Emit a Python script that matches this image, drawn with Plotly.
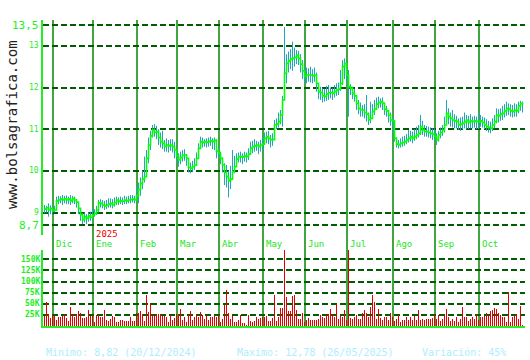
import plotly.graph_objects as go

# ---------------- data (daily, Nov-2024 .. Oct-2025) ----------------
close_nd = [9.08, 9.12, 9.06, 9.10, 9.05, 9.06, 9.28, 9.30, 9.32, 9.30, 9.33, 9.30, 9.32, 9.28, 9.34,
            9.30, 9.25, 9.10, 8.95, 8.82, 8.90, 8.86, 8.92, 8.88, 8.94]
close_jan = [8.98, 9.06, 9.24, 9.22, 9.18, 9.15, 9.18, 9.20, 9.22, 9.18, 9.24, 9.30, 9.26, 9.28, 9.27,
             9.30, 9.28, 9.30, 9.31, 9.32, 9.30, 9.40]
close_feb = [9.55, 9.70, 9.80, 9.86, 10.30, 10.62, 10.84, 10.98, 10.92, 10.94, 10.80, 10.70, 10.66, 10.58,
             10.62, 10.60, 10.62, 10.58, 10.50, 10.36]
close_mar = [10.26, 10.32, 10.38, 10.38, 10.30, 10.08, 10.06, 10.10, 10.14, 10.30, 10.54, 10.70, 10.68,
             10.70, 10.68, 10.70, 10.72, 10.70, 10.74, 10.48, 10.42]
close_apr = [10.30, 10.14, 9.96, 9.86, 9.76, 9.80, 9.98, 10.10, 10.28, 10.34, 10.34, 10.33, 10.36, 10.34,
             10.40, 10.54, 10.58, 10.60, 10.62, 10.58, 10.62, 10.64]
close_may = [10.78, 10.82, 10.78, 10.74, 10.75, 11.10, 11.12, 11.18, 11.34, 11.70, 12.34, 12.58, 12.64,
             12.68, 12.70, 12.72, 12.78, 12.70, 12.56, 12.40, 12.26]
close_jun = [12.30, 12.30, 12.30, 12.28, 12.30, 12.10, 11.90, 11.88, 11.80, 11.78, 11.84, 11.88, 11.88,
             11.86, 11.90, 11.94, 11.96, 12.10, 12.50, 12.58, 12.30]
close_jul = [12.02, 11.98, 11.86, 11.80, 11.62, 11.50, 11.46, 11.46, 11.40, 11.36, 11.22, 11.26, 11.42,
             11.48, 11.60, 11.64, 11.66, 11.62, 11.48, 11.44, 11.34, 11.22, 11.20]
close_ago = [10.78, 10.64, 10.62, 10.66, 10.68, 10.70, 10.74, 10.78, 10.82, 10.78, 10.82, 10.86, 10.90,
             11.06, 10.98, 10.94, 10.94, 10.92, 10.90, 10.88, 10.82]
close_sep = [10.74, 10.86, 10.92, 10.98, 11.10, 11.38, 11.30, 11.26, 11.22, 11.20, 11.18, 11.10, 11.12,
             11.14, 11.18, 11.22, 11.16, 11.20, 11.18, 11.20, 11.18, 11.18]
close_oct = [11.20, 11.16, 11.10, 11.06, 11.04, 11.02, 11.10, 11.18, 11.34, 11.32, 11.36, 11.38, 11.44,
             11.50, 11.48, 11.44, 11.42, 11.46, 11.44, 11.56, 11.62, 11.58]

high_nd = [9.18, 9.16, 9.22, 9.17, 9.14, 9.16, 9.38, 9.40, 9.39, 9.42, 9.40, 9.41, 9.38, 9.42, 9.40,
           9.38, 9.32, 9.22, 9.02, 8.98, 9.00, 8.96, 9.00, 9.02, 9.10]
high_jan = [9.08, 9.16, 9.30, 9.32, 9.30, 9.28, 9.30, 9.34, 9.34, 9.32, 9.36, 9.38, 9.36, 9.38, 9.36,
            9.40, 9.38, 9.40, 9.42, 9.42, 9.40, 9.62]
high_feb = [9.72, 9.84, 10.00, 10.34, 10.50, 10.80, 10.96, 11.10, 11.12, 11.08, 11.00, 10.92, 10.96,
            10.74, 10.78, 10.74, 10.76, 10.76, 10.70, 10.56]
high_mar = [10.42, 10.46, 10.50, 10.52, 10.40, 10.30, 10.20, 10.24, 10.30, 10.44, 10.66, 10.82, 10.80,
            10.76, 10.78, 10.80, 10.82, 10.78, 10.80, 10.76, 10.56]
high_apr = [10.46, 10.32, 10.18, 10.14, 10.00, 10.12, 10.50, 10.36, 10.42, 10.44, 10.46, 10.42, 10.46,
            10.44, 10.54, 10.70, 10.72, 10.76, 10.72, 10.70, 10.74, 10.80]
high_may = [10.92, 10.94, 10.96, 10.86, 10.90, 11.22, 11.26, 11.40, 11.46, 11.80, 13.45, 12.80, 12.86,
            12.92, 13.10, 12.96, 12.90, 12.88, 12.80, 12.66, 12.50]
high_jun = [12.48, 12.46, 12.50, 12.44, 12.48, 12.36, 12.08, 12.02, 11.98, 11.96, 12.04, 12.06, 12.00,
            11.98, 12.06, 12.10, 12.12, 12.42, 12.66, 12.70, 12.62]
high_jul = [12.42, 12.08, 12.02, 11.96, 11.80, 11.70, 11.64, 11.58, 11.60, 11.82, 11.40, 11.66, 11.60,
            11.70, 11.76, 11.78, 11.74, 11.76, 11.64, 11.56, 11.46, 11.40, 11.30]
high_ago = [10.96, 10.80, 10.74, 10.78, 10.82, 10.84, 10.88, 10.98, 10.96, 10.94, 11.00, 11.06, 11.10,
            11.34, 11.20, 11.10, 11.08, 11.06, 11.04, 11.02, 11.02]
high_sep = [10.90, 10.96, 11.04, 11.10, 11.30, 11.70, 11.50, 11.40, 11.46, 11.36, 11.32, 11.26, 11.28,
            11.30, 11.40, 11.34, 11.32, 11.36, 11.30, 11.32, 11.30, 11.40]
high_oct = [11.34, 11.30, 11.28, 11.24, 11.20, 11.18, 11.26, 11.34, 11.50, 11.48, 11.50, 11.56, 11.60,
            11.66, 11.62, 11.60, 11.58, 11.62, 11.60, 11.66, 11.68, 11.66]

low_nd = [8.98, 9.00, 8.90, 8.96, 8.98, 9.00, 9.18, 9.20, 9.22, 9.18, 9.22, 9.20, 9.20, 9.18, 9.22,
          9.20, 9.12, 8.96, 8.80, 8.72, 8.76, 8.72, 8.78, 8.80, 8.84]
low_jan = [8.90, 8.94, 9.00, 9.12, 9.10, 9.06, 9.08, 9.12, 9.12, 9.10, 9.14, 9.18, 9.18, 9.20, 9.18,
           9.20, 9.20, 9.22, 9.22, 9.24, 9.22, 9.26]
low_feb = [9.22, 9.40, 9.56, 9.72, 9.86, 10.18, 10.50, 10.80, 10.82, 10.76, 10.62, 10.56, 10.52, 10.46,
           10.46, 10.44, 10.48, 10.44, 10.30, 10.20]
low_mar = [10.10, 10.16, 10.22, 10.24, 10.12, 9.96, 9.94, 9.98, 10.02, 10.12, 10.36, 10.54, 10.56,
           10.58, 10.56, 10.58, 10.60, 10.52, 10.50, 10.30, 10.30]
low_apr = [10.16, 9.96, 9.66, 9.60, 9.36, 9.56, 9.78, 9.94, 10.14, 10.20, 10.20, 10.16, 10.22, 10.20,
           10.26, 10.38, 10.42, 10.46, 10.48, 10.40, 10.46, 10.50]
low_may = [10.62, 10.66, 10.64, 10.56, 10.60, 10.74, 11.00, 11.04, 11.12, 11.06, 12.06, 12.10, 12.36,
           12.44, 12.40, 12.50, 12.56, 12.54, 12.36, 12.20, 12.10]
low_jun = [12.10, 12.14, 12.12, 12.10, 12.14, 11.90, 11.72, 11.70, 11.64, 11.66, 11.68, 11.70, 11.74,
           11.70, 11.76, 11.80, 11.82, 11.92, 12.06, 12.20, 12.10]
low_jul = [11.30, 11.82, 11.72, 11.66, 11.46, 11.36, 11.30, 11.30, 11.26, 11.18, 11.10, 11.14, 11.28,
           11.34, 11.46, 11.50, 11.52, 11.46, 11.34, 11.30, 11.16, 11.08, 10.90]
low_ago = [10.70, 10.56, 10.54, 10.56, 10.58, 10.60, 10.64, 10.68, 10.70, 10.66, 10.72, 10.76, 10.80,
           10.86, 10.86, 10.82, 10.82, 10.80, 10.78, 10.74, 10.72]
low_sep = [10.62, 10.70, 10.78, 10.84, 10.92, 11.14, 11.12, 11.06, 11.04, 11.02, 11.02, 10.98, 10.96,
           11.00, 11.02, 11.00, 11.00, 11.02, 11.02, 11.04, 11.00, 11.00]
low_oct = [11.06, 11.04, 11.00, 10.96, 10.92, 10.90, 10.96, 11.02, 11.14, 11.16, 11.20, 11.22, 11.28,
           11.32, 11.34, 11.30, 11.28, 11.30, 11.30, 11.38, 11.44, 11.40]

# volume in thousands
vol_nd = [25, 55, 26, 17, 24, 22, 14, 20, 20, 22, 28, 18, 12, 42, 28, 20, 26, 33, 30, 18, 18, 20, 37, 22, 24]
vol_jan = [8, 24, 25, 20, 20, 36, 13, 12, 16, 22, 20, 10, 10, 13, 13, 12, 12, 11, 20, 12, 11, 30]
vol_feb = [30, 33, 26, 12, 70, 32, 52, 25, 22, 26, 28, 28, 22, 22, 20, 10, 25, 14, 18, 26]
vol_mar = [25, 38, 13, 20, 10, 25, 34, 13, 20, 27, 20, 32, 25, 15, 25, 14, 20, 20, 23, 20, 24]
vol_apr = [8, 15, 48, 82, 30, 15, 22, 10, 10, 14, 25, 6, 6, 2, 25, 12, 10, 12, 20, 15, 17, 20]
vol_may = [20, 22, 12, 12, 18, 70, 12, 20, 40, 40, 171, 66, 33, 33, 68, 70, 35, 15, 15, 29, 10]
vol_jun = [14, 17, 13, 13, 13, 13, 15, 25, 20, 17, 27, 27, 38, 27, 20, 50, 15, 25, 20, 35, 13]
vol_jul = [173, 17, 15, 21, 25, 15, 15, 29, 36, 30, 20, 42, 70, 53, 15, 39, 17, 13, 20, 20, 13, 29, 20]
vol_ago = [12, 15, 25, 10, 14, 14, 20, 14, 20, 14, 23, 14, 36, 14, 15, 14, 15, 15, 15, 17, 27]
vol_sep = [15, 25, 12, 15, 25, 39, 20, 12, 15, 12, 20, 8, 15, 42, 20, 20, 12, 15, 20, 15, 27, 14]
vol_oct = [20, 20, 23, 29, 25, 33, 36, 40, 38, 30, 25, 20, 20, 10, 77, 10, 20, 25, 27, 15, 44, 1]

month_labels = ["Dic", "Ene", "Feb", "Mar", "Abr", "May", "Jun", "Jul", "Ago", "Sep", "Oct"]
month_starts = [5, 25, 47, 67, 88, 110, 131, 152, 175, 196, 218]
year_label = "2025"
year_start = 25

price_ticks = [13.5, 13, 12, 11, 10, 9, 8.7]
price_tick_text = ["13,5", "13", "12", "11", "10", "9", "8,7"]
vol_ticks = [25, 50, 75, 100, 125, 150]
vol_tick_text = ["25K", "50K", "75K", "100K", "125K", "150K"]

footer_min = "Minimo: 8,82 (20/12/2024)"
footer_max = "Maximo: 12,78 (26/05/2025)"
footer_var = "Variación: 45%"
watermark = "www.bolsagrafica.com"

# ---------------- assemble ----------------
close = (close_nd + close_jan + close_feb + close_mar + close_apr + close_may + close_jun +
         close_jul + close_ago + close_sep + close_oct)
high = (high_nd + high_jan + high_feb + high_mar + high_apr + high_may + high_jun +
        high_jul + high_ago + high_sep + high_oct)
low = (low_nd + low_jan + low_feb + low_mar + low_apr + low_may + low_jun +
       low_jul + low_ago + low_sep + low_oct)
vol = (vol_nd + vol_jan + vol_feb + vol_mar + vol_apr + vol_may + vol_jun +
       vol_jul + vol_ago + vol_sep + vol_oct)
n = len(close)
idx = list(range(n))

W, H = 530, 360
def px_x(p):
    return p / W
def px_y(p):
    return (H - p) / H

MONO = "DejaVu Sans Mono"
GRID = "#005c00"
VLINE = "#008a00"
AXG = "#22ee22"
LBLG = "#22e622"

hx, hy = [], []
for i in idx:
    hx += [i, i, None]
    hy += [low[i], high[i], None]

fig = go.Figure()
fig.add_trace(go.Scatter(x=hx, y=hy, mode="lines", line=dict(color="#1fa6b8", width=1),
                         xaxis="x", yaxis="y", hoverinfo="skip"))
fig.add_trace(go.Scatter(x=idx, y=close, mode="lines", line=dict(color="#00ff00", width=1.6, shape="hv"),
                         xaxis="x", yaxis="y"))
fig.add_trace(go.Bar(x=idx, y=vol, marker=dict(color="#e00000", line=dict(width=0)), width=0.5,
                     xaxis="x2", yaxis="y2"))

# exactly 2 px per trading day; day i centred on a pixel
xdom = [px_x(43), px_x(525)]
xr = [-0.75, n + 0.25]
fig.update_layout(
    width=W, height=H, margin=dict(l=0, r=0, t=0, b=0),
    paper_bgcolor="white", plot_bgcolor="white", showlegend=False, bargap=0,
    xaxis=dict(domain=xdom, range=xr, showgrid=False, zeroline=False, showticklabels=False,
               anchor="y", showline=False),
    yaxis=dict(domain=[px_y(235), px_y(20)],
               range=[8.7 - 10 / 41.67, 13.5 + 5 / 41.67],
               tickvals=price_ticks, showticklabels=False, showgrid=True, gridcolor=GRID,
               gridwidth=1.5, griddash="6px,3px", zeroline=False,
               showline=True, linecolor=AXG, linewidth=1.5, anchor="x"),
    xaxis2=dict(domain=xdom, range=xr, showgrid=False, zeroline=False, showticklabels=False,
                anchor="y2", showline=True, linecolor=AXG, linewidth=2),
    yaxis2=dict(domain=[px_y(326), px_y(250)], range=[0, 76 / 0.4444],
                tickvals=vol_ticks, showticklabels=False, showgrid=True, gridcolor=GRID,
                gridwidth=1.5, griddash="6px,3px", zeroline=False,
                showline=True, linecolor=AXG, linewidth=1.5, anchor="x2"),
)

shapes = []
for s in month_starts:
    shapes.append(dict(type="line", xref="x", yref="paper", x0=s - 0.75, x1=s - 0.75,
                       y0=px_y(326), y1=px_y(20), line=dict(color=VLINE, width=1.5), layer="below"))
fig.update_layout(shapes=shapes)

ann = []
for v, t in zip(price_ticks, price_tick_text):
    big = t in ("13,5", "8,7")
    ann.append(dict(x=px_x(41), y=v, xref="paper", yref="y", text=t, showarrow=False,
                    xanchor="right", yanchor="middle",
                    font=dict(family=MONO, size=11 if big else 8, color="#22ee22")))
for v, t in zip(vol_ticks, vol_tick_text):
    ann.append(dict(x=px_x(42), y=v, xref="paper", yref="y2", text="<b>" + t + "</b>", showarrow=False,
                    xanchor="right", yanchor="middle",
                    font=dict(family=MONO, size=8, color="#22ee22")))
for s, t in zip(month_starts, month_labels):
    ann.append(dict(x=s - 0.5, y=px_y(244), xref="x", yref="paper", text=t, showarrow=False,
                    xanchor="left", yanchor="middle",
                    font=dict(family=MONO, size=9, color=LBLG)))
ann.append(dict(x=year_start - 0.5, y=px_y(233.5), xref="x", yref="paper", text=year_label,
                showarrow=False, xanchor="left", yanchor="middle",
                font=dict(family=MONO, size=9, color="#ee0000")))
ann.append(dict(x=px_x(12), y=px_y(125), xref="paper", yref="paper", text=watermark, textangle=-90,
                showarrow=False, xanchor="center", yanchor="middle",
                font=dict(family=MONO, size=14, color="#222222")))
for xp, t in [(44, footer_min), (235, footer_max), (420, footer_var)]:
    ann.append(dict(x=px_x(xp), y=px_y(352), xref="paper", yref="paper", text=t, showarrow=False,
                    xanchor="left", yanchor="middle",
                    font=dict(family=MONO, size=10, color="#aeeefc")))
fig.update_layout(annotations=ann)

fig.write_html("out.html")
